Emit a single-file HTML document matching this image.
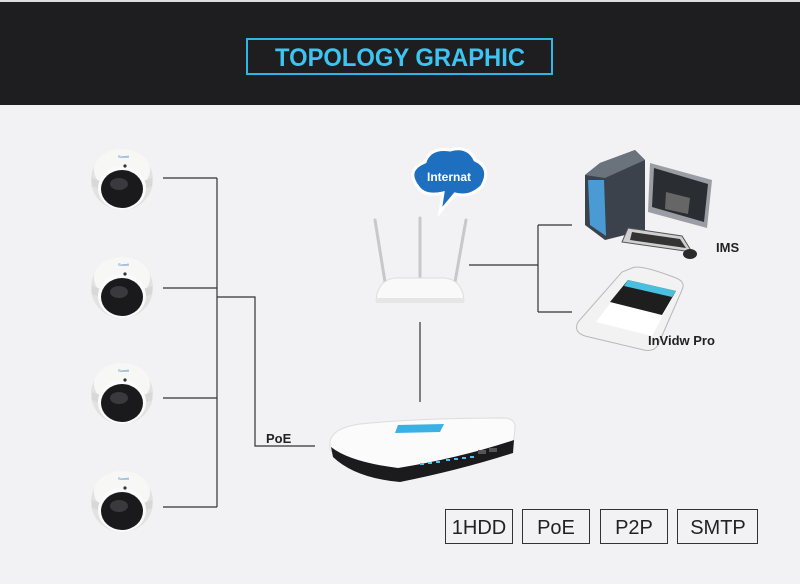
<!DOCTYPE html>
<html><head><meta charset="utf-8"><style>
html,body{margin:0;padding:0;width:800px;height:584px;overflow:hidden;background:#f2f1f3;font-family:"Liberation Sans",sans-serif}
</style></head><body>
<svg width="800" height="584" xmlns="http://www.w3.org/2000/svg">
<defs>
<g id="cam">
 <ellipse cx="0" cy="2" rx="31" ry="30" fill="#e2e2e0"/>
 <ellipse cx="0" cy="-8" rx="28" ry="21" fill="#f7f7f5"/>
 <path d="M-30 0 Q0 12 30 0 L30 8 Q0 20 -30 8Z" fill="#d8d8d6"/>
 <ellipse cx="0" cy="10" rx="24" ry="22" fill="#fafafa"/>
 <ellipse cx="0" cy="11" rx="21" ry="19" fill="#1a1a1c"/>
 <ellipse cx="-3" cy="6" rx="9" ry="6" fill="#3a3a3e"/>
 <circle cx="3" cy="-12" r="1.6" fill="#333"/>
 <text x="-4" y="-20" font-size="4" fill="#3a7bbf">Sunell</text>
</g>
</defs>
<rect x="0" y="0" width="800" height="105" fill="#1e1d1f"/>
<rect x="0" y="0" width="800" height="2" fill="#ddd"/>
<rect x="247" y="39" width="305" height="35" fill="none" stroke="#2eb6e6" stroke-width="2"/>
<text x="400" y="66" text-anchor="middle" font-size="25" font-weight="bold" fill="#3ec4f0" textLength="250" lengthAdjust="spacingAndGlyphs">TOPOLOGY GRAPHIC</text>

<g stroke="#333" stroke-width="1.2" fill="none">
 <path d="M163 178H217M163 288H217M163 398H217M163 507H217M217 178V507M217 297H255V446H315"/>
 <path d="M420 322V402"/>
 <path d="M469 265H538M538 225V312M538 225H572M538 312H572"/>
</g>
<text x="266" y="443" font-size="13" font-weight="bold" fill="#222">PoE</text>

<use href="#cam" x="122" y="178"/>
<use href="#cam" x="122" y="286"/>
<use href="#cam" x="122" y="392"/>
<use href="#cam" x="122" y="500"/>

<!-- cloud -->
<g>
 <path d="M418 187 Q405 170 425 162 Q430 147 450 150 Q468 145 475 160 Q492 168 482 186 Q470 198 455 194 L440 212 L443 193 Q425 197 418 187Z" fill="#1e6fbf" stroke="#fff" stroke-width="3"/>
 <text x="449" y="181" text-anchor="middle" font-size="12" font-weight="bold" fill="#fff">Internat</text>
</g>
<!-- router -->
<g stroke="#c8c8c8" stroke-width="3" stroke-linecap="round">
 <line x1="375" y1="220" x2="385" y2="282"/>
 <line x1="420" y1="218" x2="420" y2="278"/>
 <line x1="466" y1="220" x2="455" y2="282"/>
</g>
<path d="M376 300 Q378 280 395 278 L445 278 Q462 280 464 300Z" fill="#f9f9f9" stroke="#ddd"/>
<rect x="376" y="298" width="88" height="5" fill="#e6e6e6"/>

<!-- NVR -->
<path d="M330 442 Q332 428 360 424 Q420 418 505 418 Q516 419 515 428 L513 446 Q470 462 400 476 Q350 470 330 450Z" fill="#fbfbfb" stroke="#ddd"/>
<path d="M331 447 Q350 462 398 468 Q460 458 514 440 L513 453 Q460 470 400 482 Q355 478 333 457Z" fill="#1b1b1d"/>
<path d="M398 425 L444 424 L440 432 L395 433Z" fill="#3bb0e4"/>
<g fill="#4fc3f7"><rect x="420" y="463" width="4" height="2"/><rect x="428" y="462" width="4" height="2"/><rect x="436" y="461" width="4" height="2"/><rect x="446" y="459" width="4" height="2"/><rect x="454" y="458" width="4" height="2"/><rect x="462" y="457" width="4" height="2"/><rect x="470" y="456" width="4" height="2"/></g>
<rect x="478" y="450" width="8" height="4" fill="#555"/><rect x="489" y="448" width="8" height="4" fill="#555"/>

<!-- PC -->
<path d="M585 175 L600 163 L635 150 L645 160 L645 230 L605 240 L585 225Z" fill="#3b424c"/>
<path d="M585 175 L600 163 L635 150 L645 160 L605 178Z" fill="#6a727c"/>
<path d="M588 180 L604 180 L606 236 L590 225Z" fill="#4a9bd4"/>
<path d="M650 163 L712 180 L707 228 L648 212Z" fill="#9a9ea4"/>
<path d="M654 168 L708 184 L704 222 L652 207Z" fill="#2a2d32"/>
<path d="M666 192 L690 198 L688 214 L665 209Z" fill="#666"/>
<path d="M628 228 L682 236 L692 252 L622 242Z" fill="#d0d0d0" stroke="#555"/>
<path d="M632 232 L680 239 L686 248 L630 240Z" fill="#333"/>
<ellipse cx="690" cy="254" rx="7" ry="5" fill="#2a2a2a"/>
<text x="716" y="252" font-size="13" font-weight="bold" fill="#222">IMS</text>

<!-- phone -->
<path d="M632 268 Q640 264 676 278 Q686 282 682 290 L658 345 Q654 352 644 350 L585 336 Q573 332 578 322 L622 272Z" fill="#f2f2f2" stroke="#b8b8b8"/>
<path d="M628 280 L676 291 L652 336 L596 322Z" fill="#fff"/>
<path d="M628 280 L676 291 L662 315 L610 302Z" fill="#1e1e1e"/>
<path d="M628 280 L676 291 L672 297 L624 286Z" fill="#4ac0e0"/>
<text x="648" y="345" font-size="13" font-weight="bold" fill="#222">InVidw Pro</text>

<!-- feature boxes -->
<g fill="none" stroke="#333" stroke-width="1">
 <rect x="445.5" y="509.5" width="67" height="34"/>
 <rect x="522.5" y="509.5" width="67" height="34"/>
 <rect x="600.5" y="509.5" width="67" height="34"/>
 <rect x="677.5" y="509.5" width="80" height="34"/>
</g>
<g font-size="20" fill="#222" text-anchor="middle">
 <text x="479" y="534">1HDD</text>
 <text x="556" y="534">PoE</text>
 <text x="634" y="534">P2P</text>
 <text x="718" y="534">SMTP</text>
</g>
</svg>
</body></html>
